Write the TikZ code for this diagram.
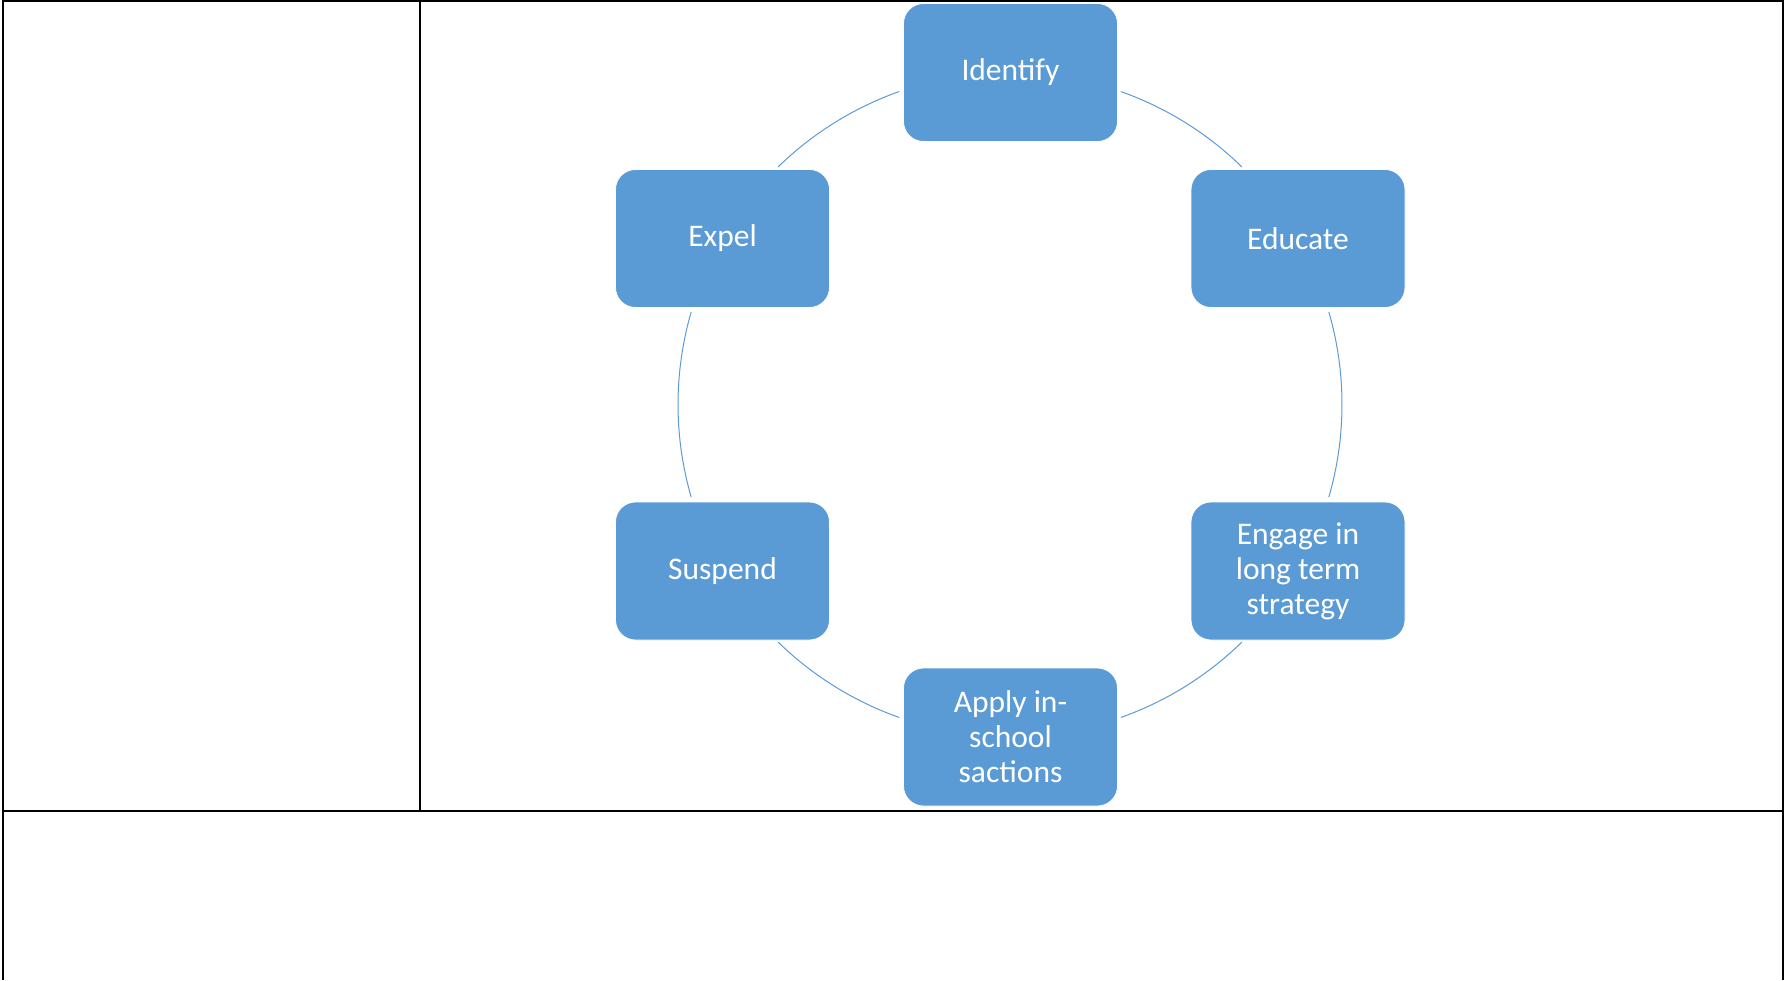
\documentclass[tikz,border=0pt]{standalone}
\usepackage{fontspec}
\setmainfont{Carlito}
\definecolor{nodeblue}{HTML}{5B9BD5}
\begin{document}
\begin{tikzpicture}[x=1pt,y=-1pt,
  stepbox/.style={fill=nodeblue, draw=white, line width=0.8pt, rounded corners=20pt,
    minimum width=214pt, minimum height=138pt, text=white, align=center,
    font=\fontsize{31.5}{35}\selectfont, inner sep=0pt},
  cyc/.style={draw=nodeblue, line width=1pt},
  rule/.style={draw=black, line width=2pt}]
\useasboundingbox (0,0) rectangle (1784,980);
% table
\draw[rule] (2.5,980) -- (2.5,1.3) -- (1782.5,1.3) -- (1782.5,980);
\draw[rule] (2.5,811) -- (1782.5,811);
\draw[rule] (420,1.3) -- (420,811);
% cycle
\coordinate (c) at (1010,404.5);
\def\R{332}
\draw[cyc] ([shift={(70.5:\R)}]c) arc[start angle=70.5, end angle=45.7, radius=\R];
\draw[cyc] ([shift={(16.2:\R)}]c) arc[start angle=16.2, end angle=-16.2, radius=\R];
\draw[cyc] ([shift={(-45.7:\R)}]c) arc[start angle=-45.7, end angle=-70.5, radius=\R];
\draw[cyc] ([shift={(-109.5:\R)}]c) arc[start angle=-109.5, end angle=-134.3, radius=\R];
\draw[cyc] ([shift={(-163.8:\R)}]c) arc[start angle=-163.8, end angle=-196.2, radius=\R];
\draw[cyc] ([shift={(134.3:\R)}]c) arc[start angle=134.3, end angle=109.5, radius=\R];
% nodes
\node[stepbox] (identify) at (1010.5,72.5) {Identify};
\node[stepbox] (educate) at (1298,238.5) {Educate};
\node[stepbox] (engage) at (1298,571) {Engage in\\long term\\strategy};
\node[stepbox] (apply) at (1010.5,737) {Apply in-\\school\\sactions};
\node[stepbox] (suspend) at (722.5,571) {Suspend};
\node[stepbox] (expel) at (722.5,238.5) {Expel};
\end{tikzpicture}
\end{document}
